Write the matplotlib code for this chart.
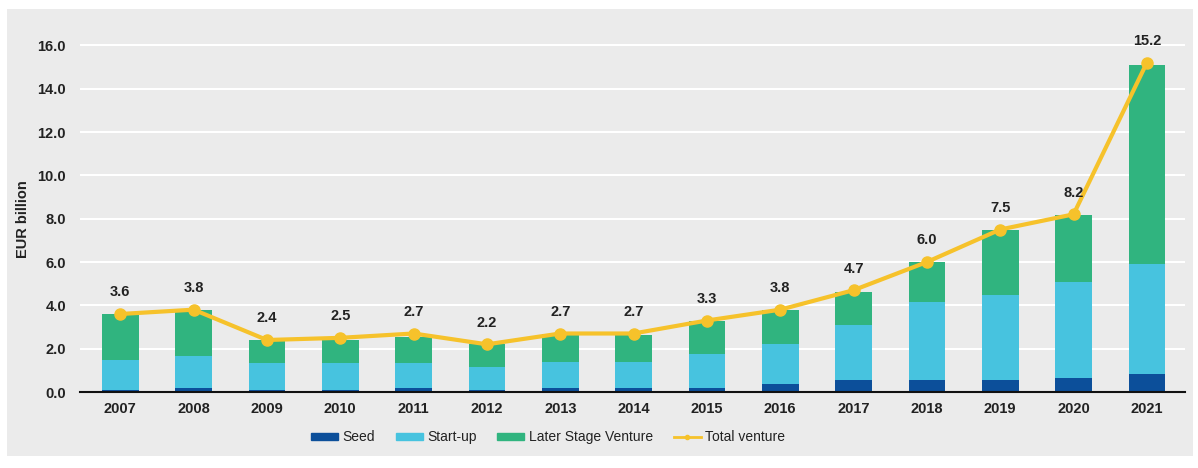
import matplotlib.pyplot as plt
import matplotlib.patches as mpatches
from matplotlib.lines import Line2D
import numpy as np

plt.rcParams['font.family'] = ['Liberation Sans', 'DejaVu Sans']

years = ["2007", "2008", "2009", "2010", "2011", "2012", "2013", "2014",
         "2015", "2016", "2017", "2018", "2019", "2020", "2021"]
seed = [0.1, 0.17, 0.09, 0.09, 0.18, 0.09, 0.18, 0.18, 0.18, 0.37, 0.55, 0.55, 0.55, 0.65, 0.83]
startup = [1.37, 1.49, 1.24, 1.24, 1.15, 1.08, 1.2, 1.2, 1.57, 1.83, 2.52, 3.6, 3.95, 4.42, 5.07]
total = [3.6, 3.8, 2.4, 2.5, 2.7, 2.2, 2.7, 2.7, 3.3, 3.8, 4.7, 6.0, 7.5, 8.2, 15.2]
# bar stack tops (slightly below the labelled totals in a few years)
stack_top = [3.6, 3.8, 2.4, 2.4, 2.55, 2.2, 2.7, 2.65, 3.3, 3.8, 4.6, 6.0, 7.47, 8.16, 15.1]
later = [t - s - u for t, s, u in zip(stack_top, seed, startup)]

c_seed = "#0c4f9a"
c_start = "#47c3df"
c_later = "#30b47f"
c_total = "#f6c22b"
bg = "#ebebeb"

fig = plt.figure(figsize=(11.98, 4.68), dpi=100)
fig.patch.set_facecolor("white")
# grey panel behind everything, leaving a thin white margin
panel = fig.add_axes([7 / 1198, 1 - 456 / 468, 1186 / 1198, 447 / 468], zorder=-5)
panel.set_facecolor(bg)
panel.set_xticks([])
panel.set_yticks([])
for s in panel.spines.values():
    s.set_visible(False)

ax = fig.add_axes([80 / 1198, (468 - 392) / 468, 1105 / 1198, 364 / 468])
ax.set_facecolor(bg)

x = np.arange(len(years))
w = 0.5
ax.bar(x, seed, w, color=c_seed, zorder=2)
ax.bar(x, startup, w, bottom=seed, color=c_start, zorder=2)
ax.bar(x, later, w, bottom=np.array(seed) + np.array(startup), color=c_later, zorder=2)
ax.plot(x, total, color=c_total, lw=3, marker="o", ms=8, zorder=3)

for xi, v in zip(x, total):
    ax.annotate(f"{v:.1f}", (xi, v), xytext=(0, 10.5), textcoords="offset points",
                ha="center", va="bottom", fontsize=10.5, fontweight="bold", color="#222222")

ax.set_xlim(-0.55, 14.52)
ax.set_ylim(0, 16.8)
ax.set_yticks(np.arange(0, 17, 2))
ax.set_yticklabels([f"{v:.1f}" for v in np.arange(0, 17, 2)])
ax.set_xticks(x)
ax.set_xticklabels(years)
ax.grid(axis="y", color="white", lw=1.5, zorder=1)
ax.set_axisbelow(True)
for s in ["top", "right", "left"]:
    ax.spines[s].set_visible(False)
ax.spines["bottom"].set_color("#111111")
ax.spines["bottom"].set_linewidth(1.5)
ax.spines["bottom"].set_zorder(4)
ax.tick_params(axis="both", length=0, labelsize=10.5, colors="#222222")
ax.tick_params(axis="y", pad=10)
ax.tick_params(axis="x", pad=7)
for lbl in ax.get_xticklabels() + ax.get_yticklabels():
    lbl.set_fontweight("bold")
ax.set_ylabel("EUR billion", fontsize=10.5, fontweight="bold", color="#222222")
ax.yaxis.set_label_coords(-50 / 1105, (392 - 219) / 364)

handles = [
    mpatches.Patch(color=c_seed, label="Seed"),
    mpatches.Patch(color=c_start, label="Start-up"),
    mpatches.Patch(color=c_later, label="Later Stage Venture"),
    Line2D([0], [0], color=c_total, lw=2, marker="o", ms=3, label="Total venture"),
]
leg = fig.legend(handles=handles, loc="center", bbox_to_anchor=(548 / 1198, 1 - 437 / 468),
                 ncol=4, frameon=False, fontsize=10, handlelength=1.95, handleheight=0.4,
                 handletextpad=0.3, columnspacing=1.5)
for t in leg.get_texts():
    t.set_color("#222222")

fig.savefig("out.png", dpi=100, facecolor=fig.get_facecolor())
